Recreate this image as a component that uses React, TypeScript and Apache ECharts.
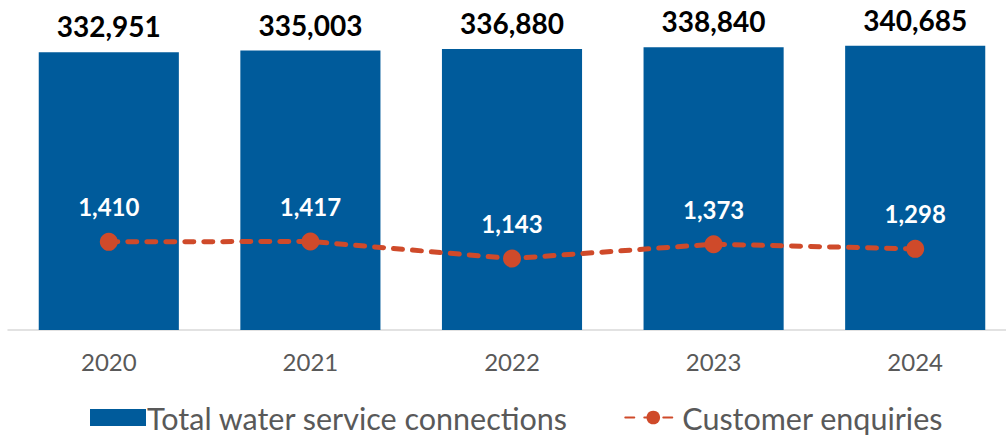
import React, { useEffect, useRef } from "react";
import * as echarts from "echarts";

const categories = ["2020", "2021", "2022", "2023", "2024"];
const connections = [332951, 335003, 336880, 338840, 340685];
const enquiries = [1410, 1417, 1143, 1373, 1298];
const seriesNames = ["Total water service connections", "Customer enquiries"];

const FONT = "Lato, 'Open Sans', sans-serif";

export default function App() {
  const ref = useRef<HTMLDivElement>(null);
  useEffect(() => {
    if (!ref.current) return;
    const chart = echarts.init(ref.current, undefined, { renderer: "svg" });
    const fmt = (v: number) => v.toLocaleString("en-US");
    chart.setOption({
      animation: false,
      textStyle: { fontFamily: FONT },
      grid: { left: 8, right: 0, top: 13, bottom: 105, containLabel: false },
      legend: {
        left: 90,
        top: 402,
        padding: 0,
        itemGap: 56,
        itemWidth: 56,
        itemHeight: 17,
        textStyle: { fontSize: 30.5, color: "#595959", fontFamily: FONT, padding: [0, 0, 0, -4] },
        data: [
          { name: seriesNames[0], icon: "rect" },
          { name: seriesNames[1] },
        ],
      },
      xAxis: {
        type: "category",
        data: categories,
        axisLine: { lineStyle: { color: "#D9D9D9", width: 1.5 } },
        axisTick: { length: 7, lineStyle: { color: "#D9D9D9", width: 1.5 } },
        axisLabel: { color: "#595959", fontSize: 24, margin: 19, fontFamily: FONT },
      },
      yAxis: [
        { type: "value", min: 0, max: 380000, show: false, splitLine: { show: false } },
        { type: "value", min: 0, max: 5072, show: false, splitLine: { show: false } },
      ],
      series: [
        {
          name: seriesNames[0],
          type: "bar",
          data: connections,
          barWidth: "69.5%",
          itemStyle: { color: "#005B9B" },
          label: {
            show: true,
            position: "top",
            distance: 12,
            color: "#000000",
            fontWeight: "bold",
            fontSize: 28,
            fontFamily: FONT,
            formatter: (p: any) => fmt(p.value),
          },
        },
        {
          name: seriesNames[1],
          type: "line",
          yAxisIndex: 1,
          data: enquiries,
          symbol: "circle",
          symbolSize: 18,
          itemStyle: { color: "#CF4A2A" },
          lineStyle: { color: "#CF4A2A", width: 5, type: [9, 10], cap: "round" },
          label: {
            show: true,
            position: "top",
            distance: 14,
            color: "#FFFFFF",
            fontWeight: "bold",
            fontSize: 24,
            fontFamily: FONT,
            formatter: (p: any) => fmt(p.value),
          },
          z: 3,
        },
      ],
    });
    return () => chart.dispose();
  }, []);
  return (
    <div
      style={{
        position: "absolute",
        left: 0,
        top: 0,
        width: 1006,
        height: 435,
        overflow: "hidden",
      }}
    >
      <div ref={ref} style={{ width: 1016, height: 435 }} />
    </div>
  );
}
